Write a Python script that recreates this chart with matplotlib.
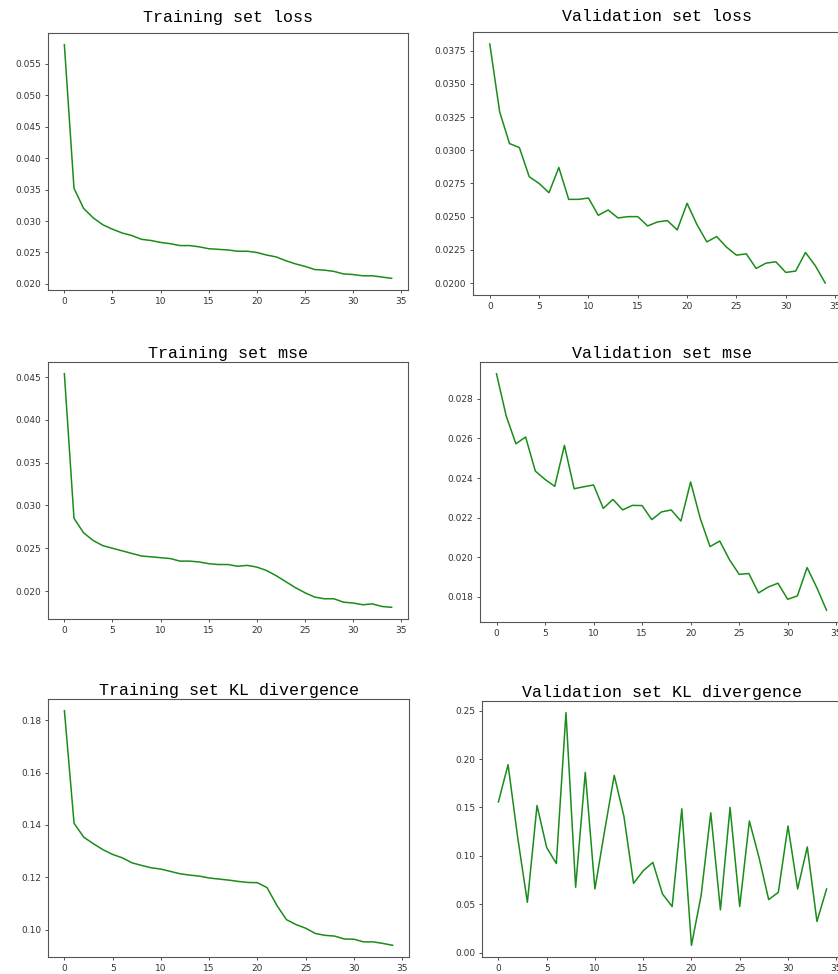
import matplotlib
matplotlib.use("Agg")
import matplotlib.pyplot as plt

# values, one per epoch (0..34)
train_loss = [0.0580, 0.0352, 0.0320, 0.0305, 0.0294, 0.0287, 0.0281, 0.0277, 0.0271, 0.0269,
              0.0266, 0.0264, 0.0261, 0.0261, 0.0259, 0.0256, 0.0255, 0.0254, 0.0252, 0.0252,
              0.0250, 0.0246, 0.0243, 0.0237, 0.0232, 0.0228, 0.0223, 0.0222, 0.0220, 0.0216,
              0.0215, 0.0213, 0.0213, 0.0211, 0.0209]
val_loss = [0.0380, 0.0329, 0.0305, 0.0302, 0.0280, 0.0275, 0.0268, 0.0287, 0.0263, 0.0263,
            0.0264, 0.0251, 0.0255, 0.0249, 0.0250, 0.0250, 0.0243, 0.0246, 0.0247, 0.0240,
            0.0260, 0.0244, 0.0231, 0.0235, 0.0227, 0.0221, 0.0222, 0.0211, 0.0215, 0.0216,
            0.0208, 0.0209, 0.0223, 0.0213, 0.0200]
train_mse = [0.0454, 0.0285, 0.0268, 0.0259, 0.0253, 0.0250, 0.0247, 0.0244, 0.0241, 0.0240,
             0.0239, 0.0238, 0.0235, 0.0235, 0.0234, 0.0232, 0.0231, 0.0231, 0.0229, 0.0230,
             0.0228, 0.0224, 0.0218, 0.0211, 0.0204, 0.0198, 0.0193, 0.0191, 0.0191, 0.0187,
             0.0186, 0.0184, 0.0185, 0.0182, 0.0181]
val_mse = [0.02926, 0.02713, 0.02573, 0.02607, 0.02435, 0.02393, 0.02358, 0.02565, 0.02346, 0.02356,
           0.02365, 0.02247, 0.02292, 0.02239, 0.02262, 0.02261, 0.02190, 0.02229, 0.02239, 0.02183,
           0.02380, 0.02195, 0.02054, 0.02082, 0.01988, 0.01914, 0.01918, 0.01820, 0.01850, 0.01869,
           0.01788, 0.01805, 0.01948, 0.01847, 0.01733]
train_kl = [0.1836, 0.1406, 0.1353, 0.1328, 0.1305, 0.1287, 0.1274, 0.1255, 0.1245, 0.1236,
            0.1231, 0.1222, 0.1213, 0.1208, 0.1204, 0.1197, 0.1193, 0.1189, 0.1184, 0.1180,
            0.1179, 0.1160, 0.1093, 0.1038, 0.1019, 0.1005, 0.0985, 0.0978, 0.0975, 0.0964,
            0.0963, 0.0953, 0.0953, 0.0947, 0.0940]
val_kl = [0.1558, 0.1942, 0.1188, 0.0520, 0.1520, 0.1086, 0.0921, 0.2480, 0.0675, 0.1863,
          0.0658, 0.1257, 0.1832, 0.1410, 0.0716, 0.0846, 0.0932, 0.0606, 0.0476, 0.1486,
          0.0075, 0.0590, 0.1445, 0.0442, 0.1500, 0.0476, 0.1360, 0.0983, 0.0548, 0.0623,
          0.1308, 0.0658, 0.1092, 0.0322, 0.0658]

titles = ["Training set loss", "Validation set loss",
          "Training set mse", "Validation set mse",
          "Training set KL divergence", "Validation set KL divergence"]
series = [train_loss, val_loss, train_mse, val_mse, train_kl, val_kl]
epochs = list(range(len(train_loss)))

W, H = 838, 974
# axes boxes in pixels: left, top, right, bottom (right column runs off the edge)
boxes = [(48, 33, 408, 290), (473, 32, 842, 295),
         (48, 362, 408, 619), (480, 362, 843, 622),
         (48, 699, 409, 957), (482, 701, 843, 957)]
pads = [8, 8, 3, 3, 3, 3]

fig = plt.figure(figsize=(W / 100, H / 100), dpi=100)

for i in range(6):
    l, t, r, b = boxes[i]
    ax = fig.add_axes([l / W, 1 - b / H, (r - l) / W, (b - t) / H])
    ax.plot(epochs, series[i], color="#1a8c1a", linewidth=1.1)
    ax.set_title(titles[i], family="Liberation Mono", fontsize=12, pad=pads[i])
    ax.tick_params(labelsize=6.5, length=2.5, width=0.6, colors="#333333", pad=2.5)
    for s in ax.spines.values():
        s.set_color("#555555")
        s.set_linewidth(0.8)

fig.savefig("out.png", dpi=100)
